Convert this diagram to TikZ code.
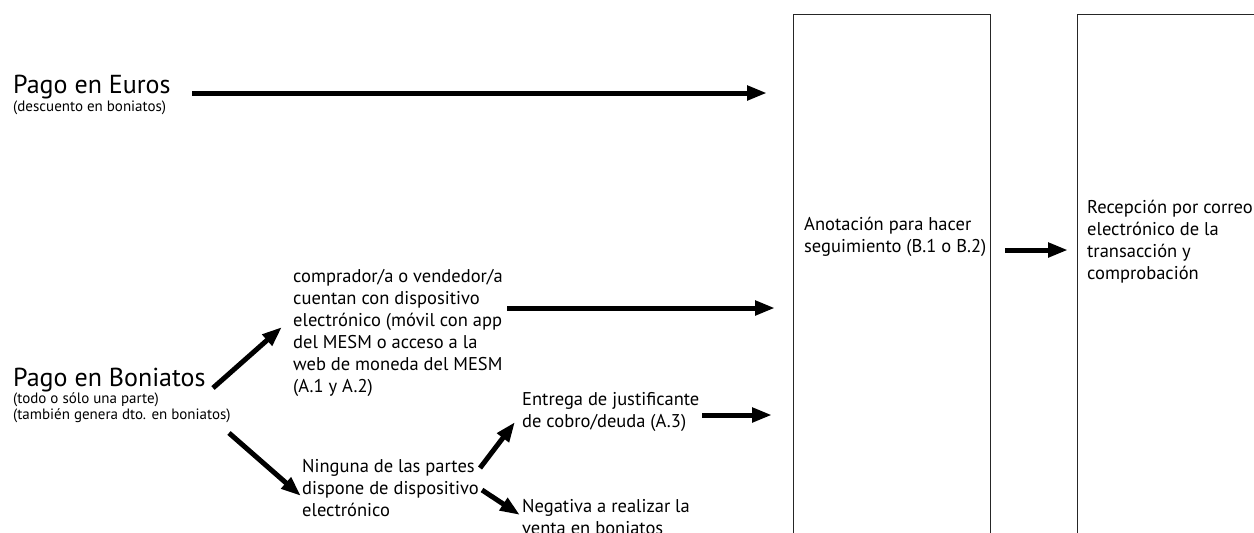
\documentclass[tikz,border=0pt]{standalone}
\usepackage{fontspec}
\setmainfont{PT Sans}
\usetikzlibrary{arrows.meta,positioning}

\tikzset{
  flecha/.style={line width=5pt,-{Triangle[length=20pt,width=14pt]}},
  titulo/.style={font=\fontsize{26}{28}\selectfont,inner sep=0pt,anchor=base west},
  nota/.style={font=\fontsize{15}{16}\selectfont,align=left,inner sep=0pt,anchor=base west},
  texto/.style={font=\fontsize{18.5}{22}\selectfont,align=left,inner sep=0pt,anchor=base west},
  caja/.style={draw=black!85,line width=0.8pt,minimum width=197pt,minimum height=560pt,anchor=north west,inner sep=0pt}
}

\begin{document}
\begin{tikzpicture}[x=1pt,y=-1pt]
    \useasboundingbox (0,0) rectangle (1254,533);
    \clip (0,0) rectangle (1254,533);

    \node[caja] (caja1) at (793,14) {};
    \node[caja,minimum width=300pt] (caja2) at (1077,14) {};

    % base west = baseline of the last line
    \node[titulo] (eur) at (13,93) {Pago en Euros};
    \node[nota] (eursub) at (13,111) {(descuento en boniatos)};
    \node[titulo] (bon) at (13,386) {Pago en Boniatos};
    \node[nota] (bonsub) at (13,419) {(todo o sólo una parte)\\(también genera dto. en boniatos)};

    \node[texto] (compr) at (293,392) {comprador/a o vendedor/a\\cuentan con dispositivo\\electrónico (móvil con app\\del MESM o acceso a la\\web de moneda del MESM\\(A.1 y A.2)};
    \node[texto] (ning) at (302,516) {Ninguna de las partes\\dispone de dispositivo\\electrónico};
    \node[texto] (entr) at (522,427) {Entrega de justificante\\de cobro/deuda (A.3)};
    \node[texto] (neg) at (522,534) {Negativa a realizar la\\venta en boniatos};
    \node[texto] (anot) at (804,252) {Anotación para hacer\\seguimiento (B.1 o B.2)};
    \node[texto] (recep) at (1087,279) {Recepción por correo\\electrónico de la\\transacción y\\comprobación};

    \draw[flecha] ([shift={(179,0)}]eur.base west) coordinate (e0) -- ([xshift=-26pt]e0 -| caja1.west);
    \draw[flecha] ([shift={(200,2)}]bon.base west) -- ([shift={(-11,-65)}]compr.base west);
    \draw[flecha] ([shift={(216,14)}]bonsub.base west) -- ([shift={(-1,-20)}]ning.base west);
    \draw[flecha] ([shift={(214,-84)}]compr.base west) coordinate (c0) -- ([xshift=-18pt]c0 -| caja1.west);
    \draw[flecha] ([shift={(180,-12)}]entr.base west) coordinate (t0) -- ([xshift=-21pt]t0 -| caja1.west);
    \draw[flecha] ([shift={(178,-48)}]ning.base west) -- ([shift={(-7,-5)}]entr.base west);
    \draw[flecha] ([shift={(180,-26)}]ning.base west) -- ([shift={(-2,-19)}]neg.base west);
    \draw[flecha] ([shift={(201,-2)}]anot.base west) coordinate (a0) -- ([xshift=-9pt]a0 -| caja2.west);
\end{tikzpicture}
\end{document}
